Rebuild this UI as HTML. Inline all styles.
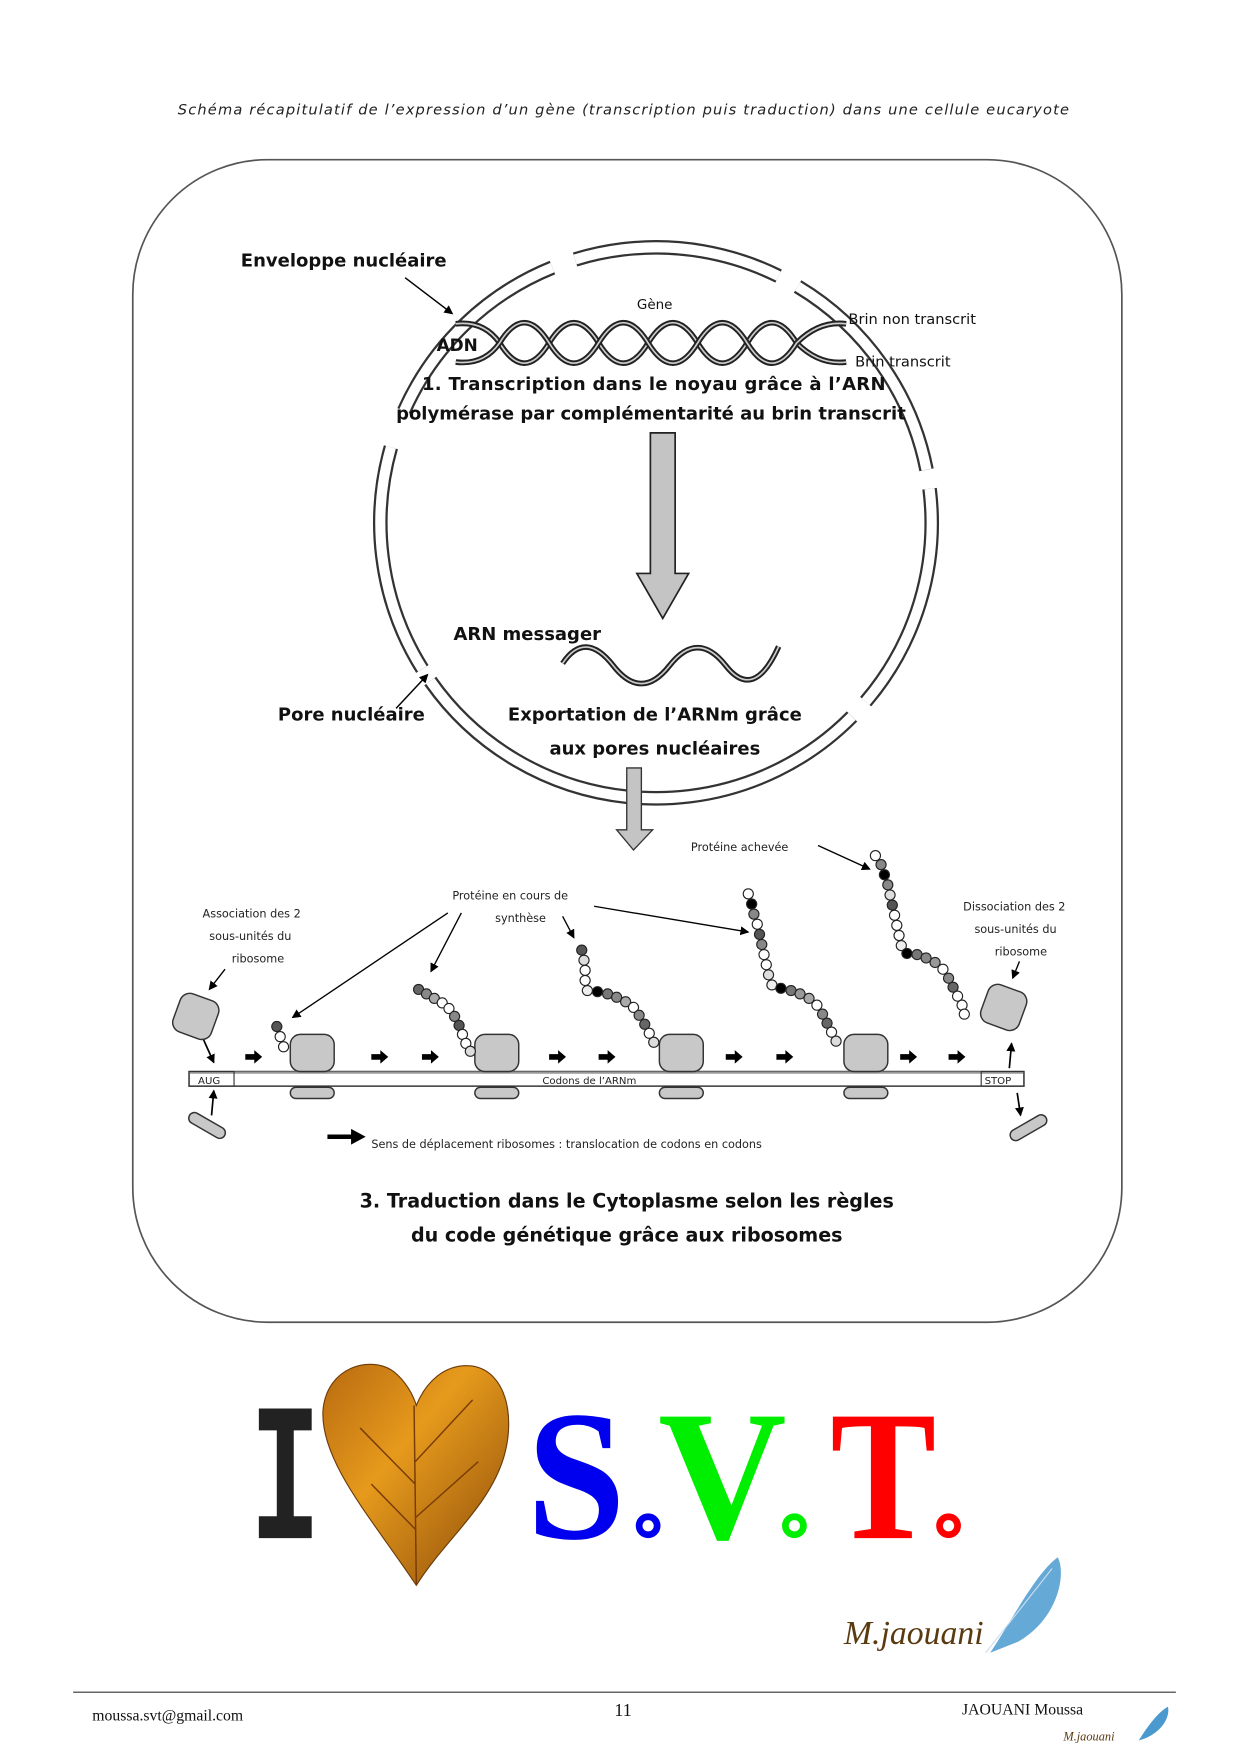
<!DOCTYPE html>
<html><head><meta charset="utf-8"><style>html,body{margin:0;padding:0;background:#fff}svg{display:block}
.c{font-family:"Comic Sans MS","DejaVu Sans",sans-serif}</style></head><body>
<svg width="1240" height="1754" viewBox="0 0 1102 1560" preserveAspectRatio="none" xmlns="http://www.w3.org/2000/svg">
<defs><marker id="ah" markerWidth="8" markerHeight="8" refX="7" refY="4" orient="auto" markerUnits="userSpaceOnUse"><path d="M0,0 L8,4 L0,8 z" fill="#000"/></marker></defs>
<text x="158" y="102" font-family="DejaVu Sans" font-style="italic" font-size="13" fill="#222" textLength="792">Schéma récapitulatif de l’expression d’un gène (transcription puis traduction) dans une cellule eucaryote</text>
<rect x="118" y="142" width="879" height="1034" rx="120" fill="none" stroke="#555" stroke-width="1.5"/>
<!-- nucleus -->
<g transform="rotate(-7 583 465)">
<circle cx="583" cy="465" r="245" fill="none" stroke="#333" stroke-width="13" pathLength="360" stroke-dasharray="47.5 4.2 48.3 3 49 3 48 8 44 5 43.5 4.5 48 4"/>
<circle cx="583" cy="465" r="245" fill="none" stroke="#fff" stroke-width="9" pathLength="360" stroke-dasharray="47.5 4.2 48.3 3 49 3 48 8 44 5 43.5 4.5 48 4"/>
</g>
<!-- DNA -->
<g fill="none">
<path d="M405,288 Q430,285 444,305 Q466,341 488,305 Q510,269 532,305 Q554,341 576,305 Q598,269 620,305 Q642,341 664,305 Q686,269 708,305 Q728,325 752,322" stroke="#222" stroke-width="5"/>
<path d="M405,288 Q430,285 444,305 Q466,341 488,305 Q510,269 532,305 Q554,341 576,305 Q598,269 620,305 Q642,341 664,305 Q686,269 708,305 Q728,325 752,322" stroke="#ccc" stroke-width="1.5"/>
<path d="M405,322 Q430,325 444,305 Q466,269 488,305 Q510,341 532,305 Q554,269 576,305 Q598,341 620,305 Q642,269 664,305 Q686,341 708,305 Q728,285 752,288" stroke="#222" stroke-width="5"/>
<path d="M405,322 Q430,325 444,305 Q466,269 488,305 Q510,341 532,305 Q554,269 576,305 Q598,341 620,305 Q642,269 664,305 Q686,341 708,305 Q728,285 752,288" stroke="#ccc" stroke-width="1.5"/>
</g>
<g class="c" font-weight="bold" fill="#111">
<text x="388" y="312" font-size="15">ADN</text>
<text x="566" y="275" font-size="12" font-weight="normal">Gène</text>
<text x="754" y="288" font-size="13" font-weight="normal">Brin non transcrit</text>
<text x="760" y="326" font-size="13" font-weight="normal">Brin transcrit</text>
<text x="375" y="347" font-size="16" textLength="412">1. Transcription dans le noyau grâce à l’ARN</text>
<text x="352" y="373" font-size="16" textLength="453">polymérase par complémentarité au brin transcrit</text>
<text x="214" y="237" font-size="16">Enveloppe nucléaire</text>
<text x="403" y="569" font-size="16">ARN messager</text>
<text x="247" y="641" font-size="16">Pore nucléaire</text>
<text x="582" y="641" font-size="16" text-anchor="middle">Exportation de l’ARNm grâce</text>
<text x="582" y="671" font-size="16" text-anchor="middle">aux pores nucléaires</text>
<text x="557" y="1074" font-size="17" text-anchor="middle">3. Traduction dans le Cytoplasme selon les règles</text>
<text x="557" y="1104" font-size="17" text-anchor="middle">du code génétique grâce aux ribosomes</text>
</g>
<line x1="360" y1="247" x2="402" y2="279" stroke="#000" stroke-width="1.3" marker-end="url(#ah)"/>
<line x1="352" y1="630" x2="380" y2="600" stroke="#000" stroke-width="1.3" marker-end="url(#ah)"/>
<!-- big arrow -->
<path d="M578,385 H600 V510 H612 L589,550 L566,510 H578 Z" fill="#c4c4c4" stroke="#222" stroke-width="1.5"/>
<!-- mRNA wave -->
<path d="M500,590 Q520,560 545,592 T595,592 T645,592 T692,575" fill="none" stroke="#222" stroke-width="5"/>
<path d="M500,590 Q520,560 545,592 T595,592 T645,592 T692,575" fill="none" stroke="#ccc" stroke-width="1.5"/>
<!-- small arrow -->
<path d="M557,683 H570 V738 H580 L563,756 L548,738 H557 Z" fill="#c4c4c4" stroke="#333" stroke-width="1.2"/>
<!-- translation -->
<g font-family="DejaVu Sans" font-size="10" fill="#222">
<text x="614" y="757">Protéine achevée</text>
<text x="402" y="800">Protéine en cours de</text>
<text x="440" y="820">synthèse</text>
<text x="180" y="816">Association des 2</text>
<text x="186" y="836">sous-unités du</text>
<text x="206" y="856">ribosome</text>
<text x="856" y="810">Dissociation des 2</text>
<text x="866" y="830">sous-unités du</text>
<text x="884" y="850">ribosome</text>
<text x="330" y="1021">Sens de déplacement ribosomes : translocation de codons en codons</text>
</g>
<g stroke="#000" stroke-width="1.2" marker-end="url(#ah)">
<line x1="727" y1="752" x2="773" y2="773"/>
<line x1="398" y1="812" x2="260" y2="905"/>
<line x1="410" y1="812" x2="383" y2="864"/>
<line x1="500" y1="815" x2="510" y2="834"/>
<line x1="528" y1="806" x2="665" y2="829"/>
<line x1="200" y1="862" x2="186" y2="880"/>
<line x1="906" y1="855" x2="900" y2="870"/>
</g>
<!-- mRNA bar -->
<rect x="168" y="953" width="742" height="13" fill="#fff" stroke="#333" stroke-width="1.3"/>
<line x1="168" y1="954" x2="910" y2="954" stroke="#999" stroke-width="2"/>
<rect x="168" y="953" width="40" height="13" fill="none" stroke="#333"/>
<rect x="872" y="953" width="38" height="13" fill="none" stroke="#333"/>
<g font-family="DejaVu Sans" font-size="9" fill="#222"><text x="176" y="964">AUG</text><text x="875" y="964">STOP</text><text x="482" y="964">Codons de l’ARNm</text></g>
<g fill="#c8c8c8" stroke="#333" stroke-width="1.3">
<rect x="258" y="920" width="39" height="33" rx="9"/><rect x="422" y="920" width="39" height="33" rx="9"/><rect x="586" y="920" width="39" height="33" rx="9"/><rect x="750" y="920" width="39" height="33" rx="9"/>
<rect x="258" y="967" width="39" height="10" rx="5"/><rect x="422" y="967" width="39" height="10" rx="5"/><rect x="586" y="967" width="39" height="10" rx="5"/><rect x="750" y="967" width="39" height="10" rx="5"/>
<rect x="156" y="886" width="36" height="36" rx="9" transform="rotate(20 174 904)"/>
<rect x="874" y="878" width="36" height="36" rx="9" transform="rotate(20 892 896)"/>
<rect x="166" y="996" width="36" height="10" rx="5" transform="rotate(30 184 1001)"/>
<rect x="896" y="998" width="36" height="10" rx="5" transform="rotate(-30 914 1003)"/>
</g>
<!-- black move arrows -->
<g fill="#000">
<path id="ba" d="M0,-2.5 H8 V-6 L15,0 L8,6 V2.5 H0 Z" transform="translate(218 940)"/>
<use href="#ba" x="112"/><use href="#ba" x="157"/><use href="#ba" x="270"/><use href="#ba" x="314"/><use href="#ba" x="427"/><use href="#ba" x="472"/><use href="#ba" x="582"/><use href="#ba" x="625"/>
<path d="M291,1009 H312 V1004 L325,1011 L312,1018 V1013 H291 Z"/>
</g>
<g stroke="#000" stroke-width="1.5" marker-end="url(#ah)"><line x1="181" y1="925" x2="190" y2="945"/><line x1="188" y1="992" x2="190" y2="970"/><line x1="897" y1="950" x2="899" y2="928"/><line x1="904" y1="972" x2="907" y2="992"/></g>
<!-- bead chains -->
<g stroke="#222" stroke-width="1">
<circle cx="246" cy="913" r="4.5" fill="#555"/><circle cx="249" cy="922" r="4.5" fill="#fff"/><circle cx="252" cy="931" r="4.5" fill="#fff"/>
<circle cx="372" cy="880" r="4.5" fill="#666"/><circle cx="379" cy="884" r="4.5" fill="#888"/><circle cx="386" cy="888" r="4.5" fill="#aaa"/><circle cx="393" cy="892" r="4.5" fill="#fff"/><circle cx="399" cy="897" r="4.5" fill="#fff"/><circle cx="404" cy="904" r="4.5" fill="#888"/><circle cx="408" cy="912" r="4.5" fill="#555"/><circle cx="411" cy="920" r="4.5" fill="#fff"/><circle cx="414" cy="928" r="4.5" fill="#fff"/><circle cx="418" cy="935" r="4.5" fill="#ddd"/>
<circle cx="517" cy="845" r="4.5" fill="#555"/><circle cx="519" cy="854" r="4.5" fill="#ddd"/><circle cx="520" cy="863" r="4.5" fill="#fff"/><circle cx="520" cy="872" r="4.5" fill="#fff"/><circle cx="522" cy="881" r="4.5" fill="#eee"/><circle cx="531" cy="882" r="4.5" fill="#000"/><circle cx="540" cy="884" r="4.5" fill="#777"/><circle cx="548" cy="887" r="4.5" fill="#888"/><circle cx="556" cy="891" r="4.5" fill="#aaa"/><circle cx="563" cy="896" r="4.5" fill="#fff"/><circle cx="568" cy="903" r="4.5" fill="#888"/><circle cx="573" cy="911" r="4.5" fill="#666"/><circle cx="577" cy="919" r="4.5" fill="#fff"/><circle cx="581" cy="927" r="4.5" fill="#ddd"/>
<circle cx="665" cy="795" r="4.5" fill="#fff"/><circle cx="668" cy="804" r="4.5" fill="#000"/><circle cx="670" cy="813" r="4.5" fill="#888"/><circle cx="673" cy="822" r="4.5" fill="#fff"/><circle cx="675" cy="831" r="4.5" fill="#555"/><circle cx="677" cy="840" r="4.5" fill="#888"/><circle cx="679" cy="849" r="4.5" fill="#fff"/><circle cx="681" cy="858" r="4.5" fill="#fff"/><circle cx="683" cy="867" r="4.5" fill="#ddd"/><circle cx="686" cy="876" r="4.5" fill="#eee"/><circle cx="694" cy="879" r="4.5" fill="#000"/><circle cx="703" cy="881" r="4.5" fill="#777"/><circle cx="711" cy="884" r="4.5" fill="#999"/><circle cx="719" cy="888" r="4.5" fill="#aaa"/><circle cx="726" cy="894" r="4.5" fill="#fff"/><circle cx="731" cy="902" r="4.5" fill="#888"/><circle cx="735" cy="910" r="4.5" fill="#666"/><circle cx="739" cy="918" r="4.5" fill="#fff"/><circle cx="743" cy="926" r="4.5" fill="#ddd"/>
<circle cx="778" cy="761" r="4.5" fill="#fff"/><circle cx="783" cy="769" r="4.5" fill="#888"/><circle cx="786" cy="778" r="4.5" fill="#000"/><circle cx="789" cy="787" r="4.5" fill="#888"/><circle cx="791" cy="796" r="4.5" fill="#ddd"/><circle cx="793" cy="805" r="4.5" fill="#555"/><circle cx="795" cy="814" r="4.5" fill="#fff"/><circle cx="797" cy="823" r="4.5" fill="#fff"/><circle cx="799" cy="832" r="4.5" fill="#fff"/><circle cx="801" cy="841" r="4.5" fill="#eee"/><circle cx="806" cy="848" r="4.5" fill="#000"/><circle cx="815" cy="849" r="4.5" fill="#777"/><circle cx="823" cy="852" r="4.5" fill="#888"/><circle cx="831" cy="856" r="4.5" fill="#999"/><circle cx="838" cy="862" r="4.5" fill="#fff"/><circle cx="843" cy="870" r="4.5" fill="#888"/><circle cx="847" cy="878" r="4.5" fill="#666"/><circle cx="851" cy="886" r="4.5" fill="#fff"/><circle cx="855" cy="894" r="4.5" fill="#fff"/><circle cx="857" cy="902" r="4.5" fill="#fff"/>
</g>
<!-- I love SVT -->
<text x="222" y="1368" font-family="Liberation Mono" font-weight="bold" font-size="175" fill="#222" textLength="63" lengthAdjust="spacingAndGlyphs">I</text>
<defs><linearGradient id="lf" x1="0" y1="0" x2="1" y2="1"><stop offset="0" stop-color="#b86a10"/><stop offset="0.4" stop-color="#e69a1c"/><stop offset="1" stop-color="#8a4a0a"/></linearGradient></defs>
<path d="M370,1410 C330,1350 285,1300 287,1255 C290,1215 330,1205 350,1220 C360,1228 367,1240 370,1250 C378,1230 395,1212 420,1215 C450,1220 458,1260 448,1295 C435,1340 395,1370 370,1410 Z" fill="url(#lf)" stroke="#6b3a08" stroke-width="1"/>
<path d="M370,1410 L368,1250 M369,1320 L320,1270 M369,1300 L420,1245 M369,1360 L330,1320 M369,1350 L425,1300" stroke="#7a3c06" stroke-width="1.3" fill="none"/>
<g font-family="Liberation Serif" font-weight="bold" font-size="165">
<text x="468" y="1368" fill="#0000ee" textLength="88" lengthAdjust="spacingAndGlyphs">S</text>
<text x="585" y="1368" fill="#00ee00" textLength="114" lengthAdjust="spacingAndGlyphs">V</text>
<text x="738" y="1368" fill="#ff0000" textLength="94" lengthAdjust="spacingAndGlyphs">T</text>
</g>
<circle cx="576" cy="1357" r="8" fill="none" stroke="#0000ee" stroke-width="6"/>
<circle cx="706" cy="1357" r="8" fill="none" stroke="#00ee00" stroke-width="6"/>
<circle cx="843" cy="1357" r="8" fill="none" stroke="#ff0000" stroke-width="6"/>
<text x="750" y="1462" font-family="Liberation Serif" font-style="italic" font-size="30" fill="#5a3a10">M.jaouani</text>
<path d="M880,1470 C900,1440 920,1400 940,1385 C948,1400 940,1440 905,1460 Z" fill="#4a9ad0" opacity="0.85"/>
<line x1="876" y1="1470" x2="935" y2="1395" stroke="#cde" stroke-width="1"/>
<!-- footer -->
<line x1="65" y1="1505" x2="1045" y2="1505" stroke="#333" stroke-width="1"/>
<g font-family="Liberation Serif" font-size="14" fill="#111">
<text x="82" y="1530">moussa.svt@gmail.com</text>
<text x="546" y="1526" font-size="16">11</text>
<text x="855" y="1525">JAOUANI Moussa</text>
<text x="945" y="1548" font-style="italic" font-size="11" fill="#5a3a10">M.jaouani</text>
</g>
<path d="M1012,1548 C1020,1535 1030,1522 1038,1518 C1040,1528 1032,1540 1018,1546 Z" fill="#4a9ad0"/>
</svg>
</body></html>
